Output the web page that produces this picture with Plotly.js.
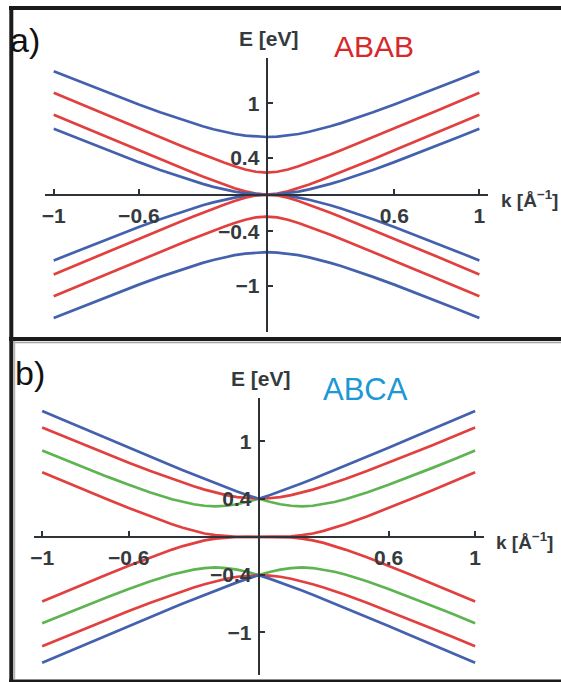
<!DOCTYPE html>
<html>
<head>
<meta charset="utf-8">
<script src="https://cdn.plot.ly/plotly-3.0.1.min.js"></script>
<style>
  html, body { margin: 0; padding: 0; background: #ffffff; }
  #chart { width: 561px; height: 682px; }
</style>
</head>
<body>
<div id="chart"></div>
<script>
// ---------------- data ----------------
const kValues = [-1, -0.9, -0.8, -0.7, -0.6, -0.5, -0.4, -0.35, -0.3, -0.25, -0.2, -0.15, -0.1, -0.05, 0,
                 0.05, 0.1, 0.15, 0.2, 0.25, 0.3, 0.35, 0.4, 0.5, 0.6, 0.7, 0.8, 0.9, 1];

// panel a) ABAB
const ababBlueOuterUp = [1.350, 1.257, 1.164, 1.074, 0.985, 0.900, 0.820, 0.782, 0.747, 0.715, 0.687, 0.663, 0.645, 0.634, 0.630, 0.634, 0.645, 0.663, 0.687, 0.715, 0.747, 0.782, 0.820, 0.900, 0.985, 1.074, 1.164, 1.257, 1.350];
const ababRedOuterUp  = [1.113, 1.015, 0.918, 0.821, 0.724, 0.627, 0.532, 0.485, 0.439, 0.394, 0.351, 0.310, 0.275, 0.250, 0.240, 0.250, 0.275, 0.310, 0.351, 0.394, 0.439, 0.485, 0.532, 0.627, 0.724, 0.821, 0.918, 1.015, 1.113];
const ababRedInnerUp  = [0.873, 0.775, 0.678, 0.581, 0.484, 0.387, 0.292, 0.245, 0.199, 0.154, 0.111, 0.070, 0.035, 0.010, 0.000, 0.010, 0.035, 0.070, 0.111, 0.154, 0.199, 0.245, 0.292, 0.387, 0.484, 0.581, 0.678, 0.775, 0.873];
const ababBlueInnerUp = [0.720, 0.627, 0.534, 0.444, 0.355, 0.270, 0.190, 0.152, 0.117, 0.085, 0.057, 0.033, 0.015, 0.004, 0.000, 0.004, 0.015, 0.033, 0.057, 0.085, 0.117, 0.152, 0.190, 0.270, 0.355, 0.444, 0.534, 0.627, 0.720];
const ababBlueInnerDn = [-0.720, -0.627, -0.534, -0.444, -0.355, -0.270, -0.190, -0.152, -0.117, -0.085, -0.057, -0.033, -0.015, -0.004, 0.000, -0.004, -0.015, -0.033, -0.057, -0.085, -0.117, -0.152, -0.190, -0.270, -0.355, -0.444, -0.534, -0.627, -0.720];
const ababRedInnerDn  = [-0.873, -0.775, -0.678, -0.581, -0.484, -0.387, -0.292, -0.245, -0.199, -0.154, -0.111, -0.070, -0.035, -0.010, 0.000, -0.010, -0.035, -0.070, -0.111, -0.154, -0.199, -0.245, -0.292, -0.387, -0.484, -0.581, -0.678, -0.775, -0.873];
const ababRedOuterDn  = [-1.113, -1.015, -0.918, -0.821, -0.724, -0.627, -0.532, -0.485, -0.439, -0.394, -0.351, -0.310, -0.275, -0.250, -0.240, -0.250, -0.275, -0.310, -0.351, -0.394, -0.439, -0.485, -0.532, -0.627, -0.724, -0.821, -0.918, -1.015, -1.113];
const ababBlueOuterDn = [-1.350, -1.257, -1.164, -1.074, -0.985, -0.900, -0.820, -0.782, -0.747, -0.715, -0.687, -0.663, -0.645, -0.634, -0.630, -0.634, -0.645, -0.663, -0.687, -0.715, -0.747, -0.782, -0.820, -0.900, -0.985, -1.074, -1.164, -1.257, -1.350];

// panel b) ABCA
const abcaBlueUp  = [1.318, 1.221, 1.125, 1.029, 0.933, 0.838, 0.744, 0.698, 0.652, 0.606, 0.562, 0.518, 0.476, 0.437, 0.400, 0.437, 0.476, 0.518, 0.562, 0.606, 0.652, 0.698, 0.744, 0.838, 0.933, 1.029, 1.125, 1.221, 1.318];
const abcaRed1Up  = [1.145, 1.051, 0.958, 0.866, 0.777, 0.689, 0.606, 0.567, 0.530, 0.495, 0.464, 0.438, 0.417, 0.405, 0.400, 0.405, 0.417, 0.438, 0.464, 0.495, 0.530, 0.567, 0.606, 0.689, 0.777, 0.866, 0.958, 1.051, 1.145];
const abcaGreenUp = [0.904, 0.811, 0.720, 0.631, 0.546, 0.465, 0.394, 0.365, 0.342, 0.326, 0.320, 0.326, 0.342, 0.368, 0.400, 0.368, 0.342, 0.326, 0.320, 0.326, 0.342, 0.365, 0.394, 0.465, 0.546, 0.631, 0.720, 0.811, 0.904];
const abcaRed2Up  = [0.677, 0.581, 0.487, 0.394, 0.302, 0.214, 0.133, 0.096, 0.063, 0.036, 0.018, 0.006, 0.001, 0.000, 0.000, 0.000, 0.001, 0.006, 0.018, 0.036, 0.063, 0.096, 0.133, 0.214, 0.302, 0.394, 0.487, 0.581, 0.677];
const abcaRed2Dn  = [-0.677, -0.581, -0.487, -0.394, -0.302, -0.214, -0.133, -0.096, -0.063, -0.036, -0.018, -0.006, -0.001, 0.000, 0.000, 0.000, -0.001, -0.006, -0.018, -0.036, -0.063, -0.096, -0.133, -0.214, -0.302, -0.394, -0.487, -0.581, -0.677];
const abcaGreenDn = [-0.904, -0.811, -0.720, -0.631, -0.546, -0.465, -0.394, -0.365, -0.342, -0.326, -0.320, -0.326, -0.342, -0.368, -0.400, -0.368, -0.342, -0.326, -0.320, -0.326, -0.342, -0.365, -0.394, -0.465, -0.546, -0.631, -0.720, -0.811, -0.904];
const abcaRed1Dn  = [-1.145, -1.051, -0.958, -0.866, -0.777, -0.689, -0.606, -0.567, -0.530, -0.495, -0.464, -0.438, -0.417, -0.405, -0.400, -0.405, -0.417, -0.438, -0.464, -0.495, -0.530, -0.567, -0.606, -0.689, -0.777, -0.866, -0.958, -1.051, -1.145];
const abcaBlueDn  = [-1.318, -1.221, -1.125, -1.029, -0.933, -0.838, -0.744, -0.698, -0.652, -0.606, -0.562, -0.518, -0.476, -0.437, -0.400, -0.437, -0.476, -0.518, -0.562, -0.606, -0.652, -0.698, -0.744, -0.838, -0.933, -1.029, -1.125, -1.221, -1.318];

const xTickValues = [-1, -0.6, 0.6, 1];
const xTickLabels = ['−1', '−0.6', '0.6', '1'];
const yTickValues = [-1, -0.4, 0.4, 1];
const yTickLabels = ['−1', '−0.4', '0.4', '1'];

const panelNames = ['ABAB', 'ABCA'];
const panelLetters = ['a)', 'b)'];
const energyLabel = 'E [eV]';
const momentumLabel = 'k [Å<sup>−1</sup>]';

// ---------------- styles ----------------
const BLUE = '#4461ad';
const RED = '#e2403f';
const GREEN = '#5db451';
const AXIS = '#2e3337';
const W = 561, H = 682;
const px = v => v / W;          // horizontal pixel -> paper
const py = v => 1 - v / H;      // vertical pixel -> paper

function band(y, color, xa, ya) {
  return { x: kValues, y: y, type: 'scatter', mode: 'lines', xaxis: xa, yaxis: ya,
           line: { color: color, width: 2.7 }, hoverinfo: 'skip', showlegend: false };
}

const traces = [
  band(ababBlueOuterUp, BLUE, 'x', 'y'),
  band(ababRedOuterUp, RED, 'x', 'y'),
  band(ababRedInnerUp, RED, 'x', 'y'),
  band(ababBlueInnerUp, BLUE, 'x', 'y'),
  band(ababBlueInnerDn, BLUE, 'x', 'y'),
  band(ababRedInnerDn, RED, 'x', 'y'),
  band(ababRedOuterDn, RED, 'x', 'y'),
  band(ababBlueOuterDn, BLUE, 'x', 'y'),

  band(abcaRed2Up, RED, 'x2', 'y2'),
  band(abcaRed2Dn, RED, 'x2', 'y2'),
  band(abcaGreenUp, GREEN, 'x2', 'y2'),
  band(abcaGreenDn, GREEN, 'x2', 'y2'),
  band(abcaRed1Up, RED, 'x2', 'y2'),
  band(abcaRed1Dn, RED, 'x2', 'y2'),
  band(abcaBlueUp, BLUE, 'x2', 'y2'),
  band(abcaBlueDn, BLUE, 'x2', 'y2')
];

const tickFont = { family: 'Liberation Sans, Arial, sans-serif', size: 21, color: '#353a3e', weight: 'bold' };

function xAxis(domain, pos) {
  return { domain: domain, range: [-1.04, 1.04], anchor: 'free', position: pos, side: 'bottom',
           showline: true, linecolor: AXIS, linewidth: 2.2, showgrid: false, zeroline: false,
           ticks: 'inside', ticklen: 5, tickwidth: 2, tickcolor: AXIS,
           tickmode: 'array', tickvals: xTickValues, ticktext: xTickLabels,
           tickfont: tickFont, ticklabelstandoff: 2, fixedrange: true };
}
function yAxis(domain, pos, range) {
  return { domain: domain, range: range, anchor: 'free', position: pos, side: 'left',
           showline: true, linecolor: AXIS, linewidth: 2.2, showgrid: false, zeroline: false,
           ticks: 'inside', ticklen: 5, tickwidth: 2, tickcolor: AXIS,
           tickmode: 'array', tickvals: yTickValues, ticktext: yTickLabels,
           tickfont: tickFont, ticklabelstandoff: 2, fixedrange: true };
}

const labelFont = { family: 'Liberation Sans, Arial, sans-serif', size: 21, color: '#353a3e', weight: 'bold' };
const kFont = { family: 'Liberation Sans, Arial, sans-serif', size: 19, color: '#353a3e', weight: 'bold' };
const bigFont = (c, s) => ({ family: 'Liberation Sans, Arial, sans-serif', size: s, color: c });

const annotations = [
  { xref: 'paper', yref: 'paper', x: px(8), y: py(40), xanchor: 'left', yanchor: 'middle', text: panelLetters[0], showarrow: false, font: bigFont('#111', 34) },
  { xref: 'paper', yref: 'paper', x: px(13), y: py(373), xanchor: 'left', yanchor: 'middle', text: panelLetters[1], showarrow: false, font: bigFont('#111', 34) },
  { xref: 'paper', yref: 'paper', x: px(374), y: py(47), xanchor: 'center', yanchor: 'middle', text: panelNames[0], showarrow: false, font: bigFont('#d7282c', 30) },
  { xref: 'paper', yref: 'paper', x: px(365), y: py(389), xanchor: 'center', yanchor: 'middle', text: panelNames[1], showarrow: false, font: bigFont('#1c98d6', 31) },
  { xref: 'paper', yref: 'paper', x: px(269), y: py(39), xanchor: 'center', yanchor: 'middle', text: energyLabel, showarrow: false, font: labelFont },
  { xref: 'paper', yref: 'paper', x: px(260.5), y: py(379), xanchor: 'center', yanchor: 'middle', text: energyLabel, showarrow: false, font: labelFont },
  { xref: 'paper', yref: 'paper', x: px(499), y: py(199), xanchor: 'left', yanchor: 'middle', text: momentumLabel, showarrow: false, font: kFont },
  { xref: 'paper', yref: 'paper', x: px(494), y: py(541), xanchor: 'left', yanchor: 'middle', text: momentumLabel, showarrow: false, font: kFont }
];

const frame = (x0, y0, x1, y1, w, c) => ({ type: 'line', xref: 'paper', yref: 'paper',
  x0: px(x0), y0: py(y0), x1: px(x1), y1: py(y1), line: { color: c, width: w }, layer: 'above' });

const shapes = [
  frame(9, 8, 561, 8, 4, '#1b1b1b'),
  frame(11.3, 6, 11.3, 682, 4, '#1b1b1b'),
  frame(9, 339, 561, 339, 4, '#1b1b1b'),
  frame(13, 342.5, 561, 342.5, 1.5, '#a5a5a5'),
  frame(14.5, 341, 14.5, 679, 1.5, '#b5b5b5'),
  frame(9, 681, 561, 681, 3, '#1b1b1b')
];

const layout = {
  width: W, height: H,
  margin: { l: 0, r: 0, t: 0, b: 0, pad: 0 },
  paper_bgcolor: '#ffffff', plot_bgcolor: 'rgba(0,0,0,0)',
  showlegend: false,
  xaxis: xAxis([px(45.2), px(487.9)], py(194.6)),
  yaxis: yAxis([py(331.7), py(58.4)], px(266.55), [-1.5, 1.49]),
  xaxis2: xAxis([px(33.5), px(483.8)], py(536.9)),
  yaxis2: yAxis([py(675.4), py(398.4)], px(258.65), [-1.45, 1.45]),
  annotations: annotations,
  shapes: shapes
};

Plotly.newPlot('chart', traces, layout, { staticPlot: true, displayModeBar: false });
</script>
</body>
</html>
